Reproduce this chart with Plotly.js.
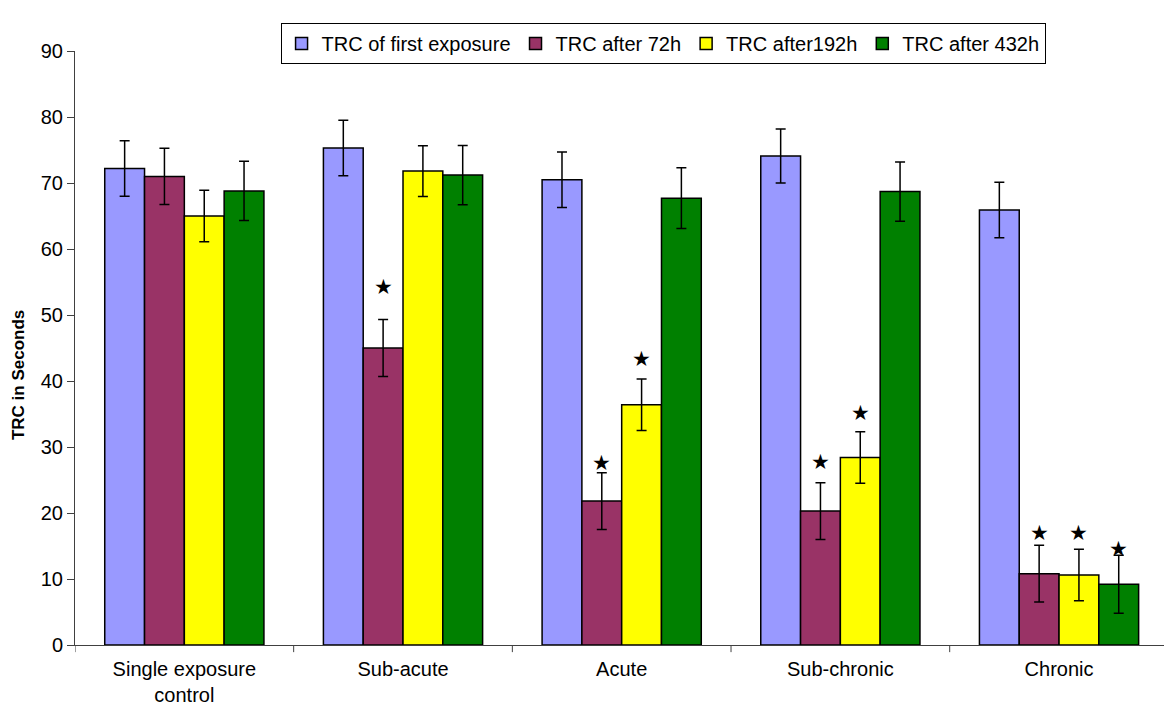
<!DOCTYPE html>
<html>
<head>
<meta charset="utf-8">
<script src="https://cdn.plot.ly/plotly-3.0.1.min.js"></script>
<style>html,body{margin:0;padding:0;background:#fff;}#chart{width:1164px;height:707px;}</style>
</head>
<body>
<div id="chart"></div>
<script>
const categories = ["Single exposure<br>control", "Sub-acute", "Acute", "Sub-chronic", "Chronic"];
const seriesNames = ["TRC of first exposure", "TRC after 72h", "TRC after192h", "TRC after 432h"];
const yTitle = "TRC in Seconds";
const firstExposure = [72.2, 75.3, 70.5, 74.1, 65.9];
const after72h = [71.0, 45.0, 21.8, 20.3, 10.8];
const after192h = [65.0, 71.8, 36.4, 28.4, 10.6];
const after432h = [68.8, 71.2, 67.7, 68.7, 9.2];
const errFirst = [4.2, 4.2, 4.2, 4.1, 4.2];
const err72h = [4.25, 4.3, 4.3, 4.3, 4.3];
const err192h = [3.9, 3.85, 3.9, 3.9, 3.9];
const err432h = [4.5, 4.5, 4.6, 4.5, 4.4];
// significance stars: series index, category index, y value
const starSeries = [1, 1, 2, 1, 2, 1, 2, 3];
const starCategory = [1, 2, 2, 3, 3, 4, 4, 4];
const starY = [53.8, 27.1, 42.9, 27.2, 34.7, 16.5, 16.5, 14.1];

const colors = ["#9999FF", "#993366", "#FFFF00", "#008000"];
const values = [firstExposure, after72h, after192h, after432h];
const errs = [errFirst, err72h, err192h, err432h];
const xIdx = categories.map((c, i) => i);

const traces = values.map((v, k) => ({
  type: "bar",
  name: seriesNames[k],
  x: xIdx,
  y: v,
  marker: {color: colors[k], line: {color: "#000", width: 1.5}},
  error_y: {type: "data", array: errs[k], visible: true, color: "#000", thickness: 1.5, width: 5}
}));

const bargap = 0.272;
const barW = (1 - bargap) / 4;
const annotations = starSeries.map((s, i) => ({
  x: starCategory[i] + (s - 1.5) * barW,
  y: starY[i],
  xref: "x", yref: "y",
  yshift: 3,
  text: "★",
  showarrow: false,
  font: {size: 21, color: "#000", family: "DejaVu Sans"}
}));
annotations.push({
  text: "<b>" + yTitle + "</b>",
  xref: "paper", yref: "paper",
  x: -0.052, y: 0.455,
  xanchor: "center", yanchor: "middle",
  textangle: -90,
  showarrow: false,
  font: {size: 17, color: "#000"}
});

const layout = {
  width: 1164, height: 707,
  margin: {l: 75, r: 0, t: 51, b: 62},
  paper_bgcolor: "#fff", plot_bgcolor: "#fff",
  font: {family: "Liberation Sans, Arial, sans-serif", color: "#000", size: 20},
  barmode: "group",
  bargap: bargap,
  bargroupgap: 0,
  showlegend: true,
  legend: {
    orientation: "h",
    x: 0.540, xanchor: "center",
    y: 1.047, yanchor: "top",
    bordercolor: "#000", borderwidth: 1,
    bgcolor: "#fff",
    font: {size: 20},
    itemwidth: 30,
    traceorder: "normal"
  },
  xaxis: {
    type: "linear",
    range: [-0.5, 4.48],
    tickmode: "array",
    tickvals: xIdx,
    ticktext: categories,
    ticks: "outside", ticklen: 6, tickcolor: "rgba(0,0,0,0)",
    showline: true, linecolor: "#404040", linewidth: 1,
    showgrid: false, zeroline: false,
    tickfont: {size: 20}
  },
  yaxis: {
    range: [0, 90],
    dtick: 10,
    ticks: "outside", ticklen: 7, tickcolor: "#404040",
    showline: true, linecolor: "#404040", linewidth: 1,
    showgrid: false, zeroline: false,
    tickfont: {size: 20}
  },
  shapes: [-0.5, 0.5, 1.5, 2.5, 3.5].map(b => ({
    type: "line", xref: "x", yref: "paper",
    x0: b, x1: b, y0: 0, y1: -0.012,
    line: {color: "#404040", width: 1}
  })),
  annotations: annotations
};

Plotly.newPlot("chart", traces, layout, {displayModeBar: false});
</script>
</body>
</html>
